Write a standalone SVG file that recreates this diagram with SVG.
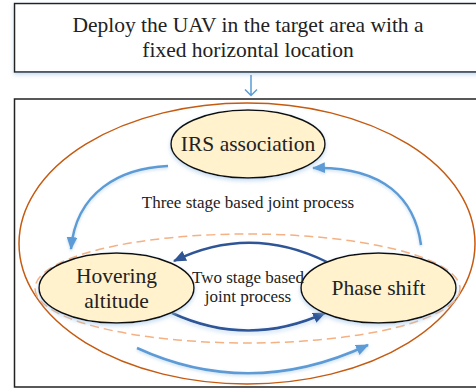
<svg xmlns="http://www.w3.org/2000/svg" width="476" height="389" viewBox="0 0 476 389">
<style>
  text { font-family: "Liberation Serif", "Times New Roman", serif; fill: #222; text-anchor: middle; }
  .big { font-size: 21.5px; }
  .mid { font-size: 17px; }
  .node { fill: #FFF2CC; stroke: #111; stroke-width: 1.5; filter: url(#sh); }
  .lb { fill: none; stroke: #5B9BD5; stroke-width: 2.5; filter: url(#glow); }
  .db { fill: none; stroke: #2F5597; stroke-width: 2.5; }
</style>
<defs>
  <filter id="sh" x="-20%" y="-20%" width="140%" height="150%">
    <feDropShadow dx="0" dy="2" stdDeviation="2" flood-color="#9DC3E6" flood-opacity="0.6"/>
  </filter>
  <filter id="glow" x="-20%" y="-20%" width="140%" height="150%">
    <feDropShadow dx="0" dy="1.5" stdDeviation="1.5" flood-color="#BDD7EE" flood-opacity="0.8"/>
  </filter>
  <marker id="al" viewBox="0 0 12 10" refX="11" refY="5" markerWidth="13" markerHeight="11" markerUnits="userSpaceOnUse" orient="auto">
    <path d="M0,0 L12,5 L0,10 Z" fill="#5B9BD5"/>
  </marker>
  <marker id="ad" viewBox="0 0 12 10" refX="11" refY="5" markerWidth="13" markerHeight="11" markerUnits="userSpaceOnUse" orient="auto">
    <path d="M0,0 L12,5 L0,10 Z" fill="#2F5597"/>
  </marker>
</defs>

<g id="top-box">
  <rect x="14.5" y="3.5" width="470" height="68.5" fill="#fff" stroke="#222" stroke-width="1.5" filter="url(#sh)"/>
  <text class="big" x="248" y="32">Deploy the UAV in the target area with a</text>
  <text class="big" x="248" y="57">fixed horizontal location</text>
</g>

<g id="frame">
  <rect x="14.5" y="99" width="470" height="288" fill="none" stroke="#222" stroke-width="1.5"/>
  <ellipse cx="247" cy="243.5" rx="228" ry="140.5" fill="none" stroke="#C55A11" stroke-width="1.5"/>
  <ellipse cx="247.5" cy="288.5" rx="212.5" ry="54.5" fill="none" stroke="#F4B183" stroke-width="1.5" stroke-dasharray="9 5"/>
</g>

<g id="connectors">
  <path d="M251,75 V95.5 M245,89.5 L251,95.5 L257,89.5" fill="none" stroke="#5B9BD5" stroke-width="1.5"/>
  <path class="lb" d="M168,166 C120,168 76,192 71,249" marker-end="url(#al)"/>
  <path class="lb" d="M421,245 C415,200 385,166 313,168" marker-end="url(#al)"/>
  <path class="lb" d="M137,348 Q250,400 368,345" marker-end="url(#al)"/>
  <path class="db" d="M327,262 Q250,224 174,261" marker-end="url(#ad)"/>
  <path class="db" d="M172,313 Q248,348 325,313" marker-end="url(#ad)" filter="url(#sh)"/>
</g>

<g id="irs-association">
  <ellipse class="node" cx="248" cy="144" rx="77" ry="34"/>
  <text class="big" x="248" y="151">IRS association</text>
</g>

<g id="hovering-altitude">
  <ellipse class="node" cx="116.5" cy="288" rx="77.5" ry="35"/>
  <text class="big" x="116.5" y="283">Hovering</text>
  <text class="big" x="116.5" y="308">altitude</text>
</g>

<g id="phase-shift">
  <ellipse class="node" cx="378.5" cy="288" rx="77.5" ry="35"/>
  <text class="big" x="378.5" y="295">Phase shift</text>
</g>

<g id="labels">
  <text class="mid" x="248" y="208">Three stage based joint process</text>
  <text class="mid" x="248" y="283">Two stage based</text>
  <text class="mid" x="248" y="302">joint process</text>
</g>
</svg>
